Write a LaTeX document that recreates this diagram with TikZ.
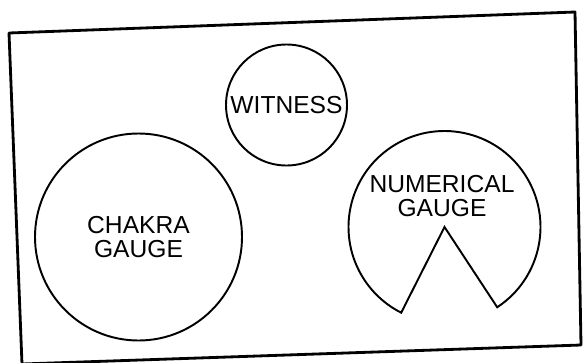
\documentclass[tikz,border=0pt]{standalone}
\usepackage{fontspec}
\setmainfont{Liberation Sans}
\begin{document}
\begin{tikzpicture}[
  frame/.style  = {line width=1.6pt, line join=round},
  gauge/.style  = {draw, circle, line width=1.1pt, inner sep=0pt, align=center,
                   font=\fontsize{14}{14}\selectfont},
  cutgauge/.style = {line width=1.1pt, line join=miter},
  lbl/.style    = {align=center, inner sep=0pt, font=\fontsize{14}{14}\selectfont},
]
  \useasboundingbox (0,0) rectangle (11.72,-7.24);

  % the sheet is scanned a little askew
  \draw[frame] (0.18,-0.66) -- (11.50,-0.24) -- (11.62,-6.90) -- (0.44,-7.28) -- cycle;

  \node[gauge, minimum size=2.42cm] (wit) at (5.73,-2.10) {WITNESS};
  \node[gauge, minimum size=4.14cm] (chk) at (2.77,-4.74) {CHAKRA\\GAUGE};

  % the numerical gauge has a wedge cut out of its bottom
  \coordinate (num) at (8.89,-4.54);
  \draw[cutgauge] (num) -- ++(-56.7:1.92)
     arc[start angle=-56.7, end angle=243.2, radius=1.92] -- cycle;
  \node[lbl] (numlbl) at (8.84,-3.92) {NUMERICAL\\GAUGE};
\end{tikzpicture}
\end{document}
